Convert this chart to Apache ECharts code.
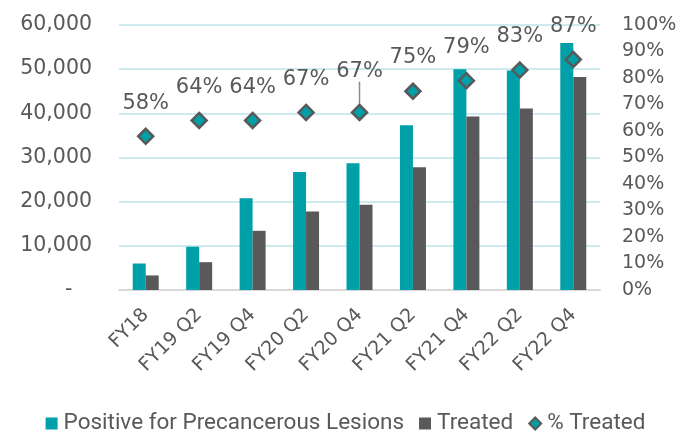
<!DOCTYPE html>
<html>
<head>
<meta charset="utf-8">
<script src="https://cdn.jsdelivr.net/npm/echarts@6/dist/echarts.min.js"></script>
<style>html,body{margin:0;padding:0;background:#fff;}#c{width:691px;height:440px;}</style>
</head>
<body>
<div id="c"></div>
<script>
const categories = ['FY18','FY19 Q2','FY19 Q4','FY20 Q2','FY20 Q4','FY21 Q2','FY21 Q4','FY22 Q2','FY22 Q4'];
const positive = [6000, 9800, 20800, 26700, 28700, 37300, 50000, 49700, 55900];
const treated = [3300, 6300, 13400, 17800, 19300, 27800, 39300, 41100, 48200];
const pctTreated = [0.58, 0.64, 0.64, 0.67, 0.67, 0.75, 0.79, 0.83, 0.87];
const leftTicks = {min: 0, max: 60000, interval: 10000};
const rightTicks = {min: 0, max: 1, interval: 0.1};

const TEAL = '#00A0A9', GRAY = '#595959', TXT = '#595959';
const axisFont = "'DejaVu Sans'";

const chart = echarts.init(document.getElementById('c'));
chart.setOption({
  animation: false,
  grid: {left: 119, right: 91, top: 25, bottom: 150, containLabel: false, outerBoundsMode: 'none'},
  legend: {
    bottom: 0, left: 'center', itemWidth: 12, itemHeight: 12, itemGap: 15,
    textStyle: {color: TXT, fontFamily: 'Roboto', fontSize: 22.5, padding: [0,0,0,1]},
    data: [
      {name: 'Positive for Precancerous Lesions', icon: 'rect'},
      {name: 'Treated', icon: 'rect'},
      {name: '% Treated', icon: 'diamond'}
    ]
  },
  xAxis: {
    type: 'category', data: categories,
    axisTick: {show: false},
    axisLine: {lineStyle: {color: '#D9D9D9', width: 2}},
    axisLabel: {rotate: 45, interval: 0, margin: 22, color: TXT, fontFamily: axisFont, fontSize: 19}
  },
  yAxis: [
    {
      type: 'value', min: leftTicks.min, max: leftTicks.max, interval: leftTicks.interval,
      axisLine: {show: false}, axisTick: {show: false},
      splitLine: {lineStyle: {color: '#CDEBEE', width: 2}},
      axisLabel: {margin: 27, color: TXT, fontFamily: axisFont, fontSize: 20.5,
        formatter: v => v === 0 ? '-   ' : v.toLocaleString('en-US')}
    },
    {
      type: 'value', min: rightTicks.min, max: rightTicks.max, interval: rightTicks.interval,
      axisLine: {show: false}, axisTick: {show: false}, splitLine: {show: false},
      axisLabel: {margin: 22, color: TXT, fontFamily: axisFont, fontSize: 19,
        formatter: v => Math.round(v * 100) + '%'}
    }
  ],
  series: [
    {name: 'Positive for Precancerous Lesions', type: 'bar', data: positive, barWidth: 13, barGap: '0%',
      itemStyle: {color: TEAL}},
    {name: 'Treated', type: 'bar', data: treated, barWidth: 13, barGap: '0%',
      itemStyle: {color: GRAY}},
    {name: '% Treated', type: 'scatter', yAxisIndex: 1, symbol: 'diamond', symbolSize: 15,
      itemStyle: {color: TEAL, borderColor: GRAY, borderWidth: 2.5, opacity: 1},
      label: {show: true, position: 'top', distance: 14, color: TXT, fontFamily: axisFont, fontSize: 21,
        formatter: p => Math.round(p.value * 100) + '%'},
      labelLayout: p => p.dataIndex === 4 ? {dy: -8} : {},
      labelLine: {show: true, lineStyle: {color: '#8C8C8C', width: 1.5}},
      data: pctTreated.map((v, i) => i === 4 ? {value: v} : {value: v, labelLine: {show: false}})
    }
  ]
});
</script>
</body>
</html>
